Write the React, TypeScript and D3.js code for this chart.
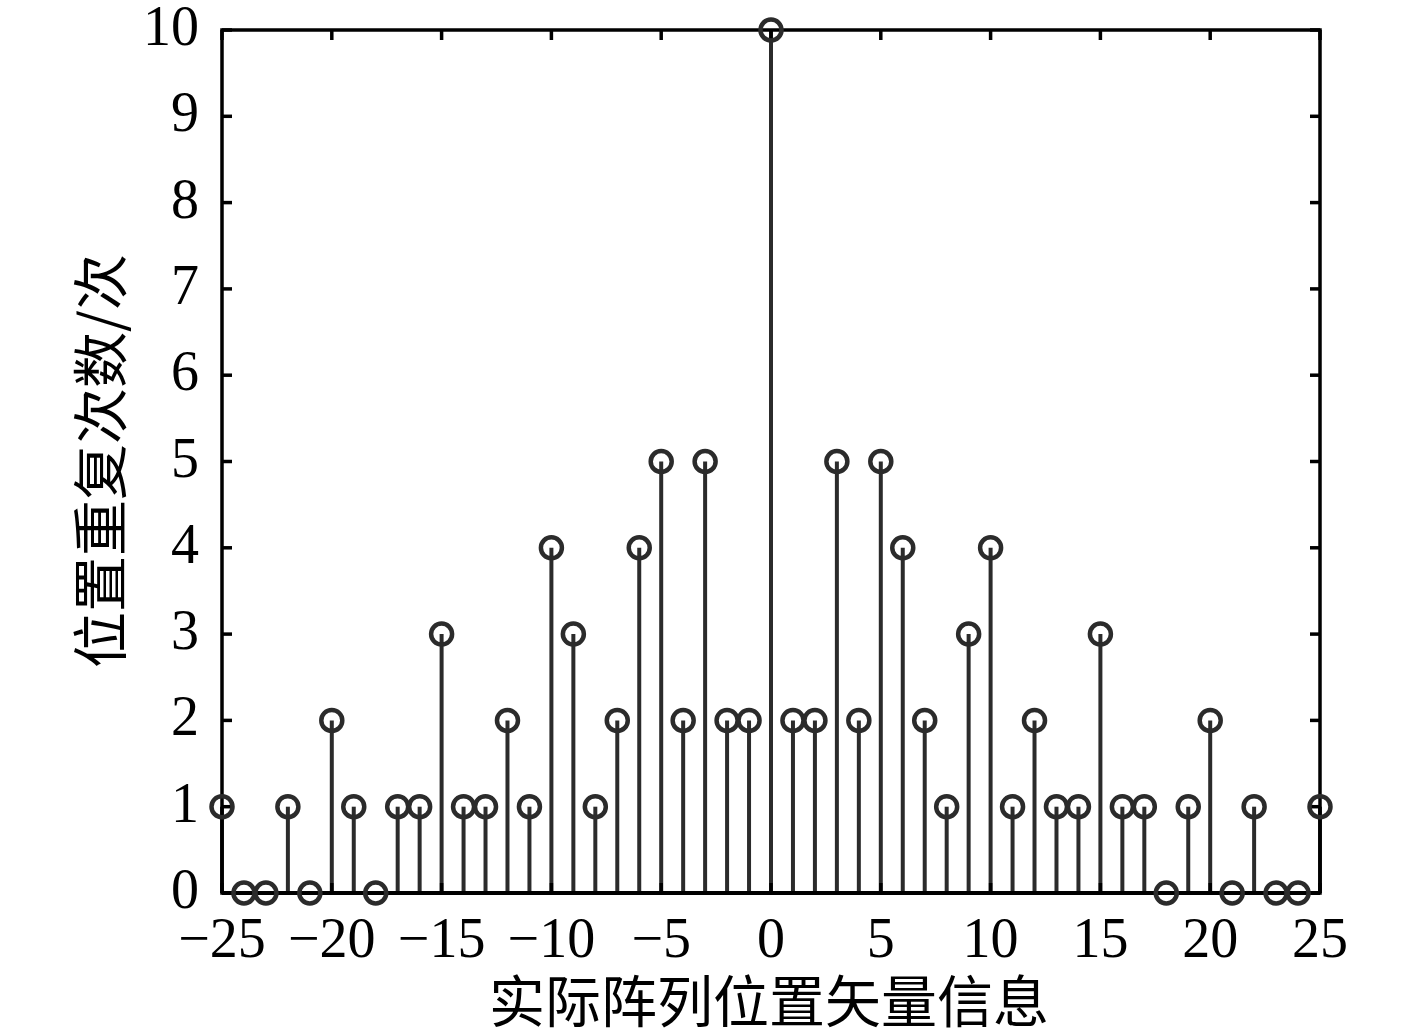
import React from "react";
import * as d3 from "d3";

const positions = [
  -25, -24, -23, -22, -21, -20, -19, -18, -17, -16, -15, -14, -13, -12, -11, -10, -9, -8, -7, -6, -5, -4, -3, -2, -1,
  0, 1, 2, 3, 4, 5, 6, 7, 8, 9, 10, 11, 12, 13, 14, 15, 16, 17, 18, 19, 20, 21, 22, 23, 24, 25,
];
const counts = [
  1, 0, 0, 1, 0, 2, 1, 0, 1, 1, 3, 1, 1, 2, 1, 4, 3, 1, 2, 4, 5, 2, 5, 2, 2,
  10, 2, 2, 5, 2, 5, 4, 2, 1, 3, 4, 1, 2, 1, 1, 3, 1, 1, 0, 1, 2, 0, 1, 0, 0, 1,
];
const xTicks = [-25, -20, -15, -10, -5, 0, 5, 10, 15, 20, 25];
const yTicks = [0, 1, 2, 3, 4, 5, 6, 7, 8, 9, 10];
const xLabel = "实际阵列位置矢量信息";
const yLabel = "位置重复次数/次";

const W = 1417;
const H = 1035;
const L = 222, R = 1320, T = 30, B = 893;

export default function App() {
  const x = d3.scaleLinear().domain([-25, 25]).range([L, R]);
  const y = d3.scaleLinear().domain([0, 10]).range([B, T]);
  const fmt = (v: number) => (v < 0 ? "\u2212" + Math.abs(v) : String(v));
  const serif = "'Liberation Serif', 'Times New Roman', serif";
  const cjk = "'Noto Sans CJK SC', sans-serif";
  const stemColor = "#2b2b2b";
  const tick = 10;
  return (
    <svg width={W} height={H} style={{ position: "absolute", left: 0, top: 0, background: "#fff" }}>
      <rect x={0} y={0} width={W} height={H} fill="#fff" />
      {/* stems */}
      {positions.map((p, i) => (
        <line key={"s" + i} x1={x(p)} x2={x(p)} y1={y(0)} y2={y(counts[i])} stroke={stemColor} strokeWidth={4} />
      ))}
      {/* axes box */}
      <rect x={L} y={T} width={R - L} height={B - T} fill="none" stroke="#000" strokeWidth={3.5} />
      {/* ticks */}
      {xTicks.map((t) => (
        <g key={"xt" + t}>
          <line x1={x(t)} x2={x(t)} y1={B} y2={B - tick} stroke="#000" strokeWidth={3.5} />
          <line x1={x(t)} x2={x(t)} y1={T} y2={T + tick} stroke="#000" strokeWidth={3.5} />
          <text x={x(t)} y={B + 64} textAnchor="middle" fontFamily={serif} fontSize={56} fill="#000">
            {fmt(t)}
          </text>
        </g>
      ))}
      {yTicks.map((t) => (
        <g key={"yt" + t}>
          <line x1={L} x2={L + tick} y1={y(t)} y2={y(t)} stroke="#000" strokeWidth={3.5} />
          <line x1={R} x2={R - tick} y1={y(t)} y2={y(t)} stroke="#000" strokeWidth={3.5} />
          <text x={199} y={y(t) + 15} textAnchor="end" fontFamily={serif} fontSize={56} fill="#000">
            {fmt(t)}
          </text>
        </g>
      ))}
      {/* baseline */}
      <line x1={L} x2={R} y1={y(0)} y2={y(0)} stroke="#000" strokeWidth={4} />
      {/* markers */}
      {positions.map((p, i) => (
        <circle key={"m" + i} cx={x(p)} cy={y(counts[i])} r={10.5} fill="none" stroke={stemColor} strokeWidth={4.5} />
      ))}
      {/* labels */}
      <text x={769} y={1022} textAnchor="middle" fontFamily={cjk} fontSize={56} fill="#000">
        {xLabel}
      </text>
      <text
        transform={`translate(${121},${461}) rotate(-90)`}
        textAnchor="middle"
        fontFamily={cjk}
        fontSize={56}
        fill="#000"
      >
        {yLabel}
      </text>
    </svg>
  );
}
